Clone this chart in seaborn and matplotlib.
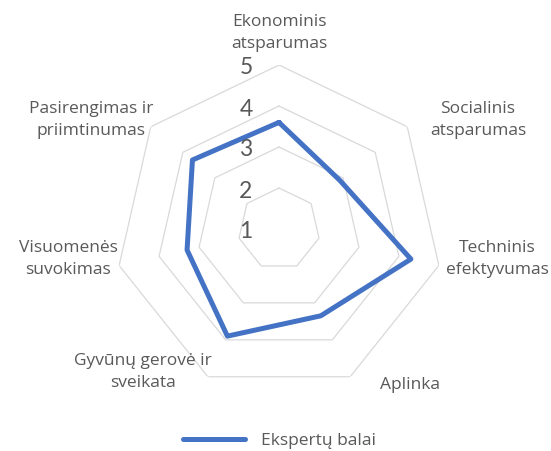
import numpy as np
import pandas as pd
import matplotlib
matplotlib.use("Agg")
import matplotlib.pyplot as plt
import matplotlib.transforms as mtransforms
from matplotlib.lines import Line2D
import seaborn as sns

# ---- data ----
categories = ["Ekonominis\natsparumas", "Socialinis\natsparumas", "Techninis\nefektyvumas",
              "Aplinka", "Gyvūnų gerovė ir\nsveikata", "Visuomenės\nsuvokimas",
              "Pasirengimas ir\npriimtinumas"]
values = [3.6, 2.9, 4.3, 3.35, 3.9, 3.3, 3.7]
ring_levels = [2, 3, 4, 5]
tick_values = [1, 2, 3, 4, 5]
tick_labels = ["1", "2", "3", "4", "5"]
series_name = "Ekspertų balai"

sns.set_theme(style="white")
plt.rcParams['font.family'] = ['Open Sans', 'DejaVu Sans']

W, H = 551, 451
fig = plt.figure(figsize=(W / 100, H / 100), dpi=100)
fig.patch.set_facecolor("white")
cx, cy, R = 279, 229, 164
ax = fig.add_axes([(cx - R) / W, (H - cy - R) / H, 2 * R / W, 2 * R / H], projection="polar")
ax.set_theta_zero_location("N")
ax.set_theta_direction(-1)

n = len(categories)
angles = np.linspace(0, 2 * np.pi, n, endpoint=False)
closed_angles = np.append(angles, 2 * np.pi)

grid_color = "#d9d9d9"
for lvl in ring_levels:
    ax.plot(closed_angles, [lvl] * (n + 1), color=grid_color, lw=0.9, zorder=1)

df = pd.DataFrame({"theta": closed_angles, "r": values + values[:1]})
sns.lineplot(data=df, x="theta", y="r", sort=False, estimator=None, ax=ax,
             color="#4472C4", lw=3.6, zorder=3, legend=False,
             solid_joinstyle="round", solid_capstyle="round")

ax.set_ylim(1, 5)
ax.grid(False)
ax.spines["polar"].set_visible(False)
ax.set_xticks([])
ax.set_yticks([])
ax.set_xlabel("")
ax.set_ylabel("")
ax.patch.set_alpha(0)

text_color = "#595959"
off = mtransforms.offset_copy(ax.transData, fig=fig, x=-33, y=-3, units="dots")
for v, lab in zip(tick_values, tick_labels):
    ax.text(0, v, lab, transform=off, ha="center", va="center",
            fontsize=16.5, color=text_color, zorder=4, family=["Lato", "DejaVu Sans"])

# category label positions (pixel centres)
label_pos = [(279, 33), (478, 120), (497, 259), (410, 385),
             (143, 372), (68, 259), (91, 120)]
for lab, (px, py) in zip(categories, label_pos):
    fig.text(px / W, 1 - py / H, lab, ha="center", va="center", ma="center",
             fontsize=12.5, color=text_color, linespacing=1.55)

handle = Line2D([0], [0], color="#4472C4", lw=3.6, solid_capstyle="round")
fig.legend([handle], [series_name], loc="center left",
           bbox_to_anchor=(183 / W, 1 - 441 / H), frameon=False,
           borderaxespad=0, borderpad=0, handlelength=3.55, handletextpad=0.95,
           fontsize=12.5, labelcolor=text_color)

fig.savefig("out.png", dpi=100)
